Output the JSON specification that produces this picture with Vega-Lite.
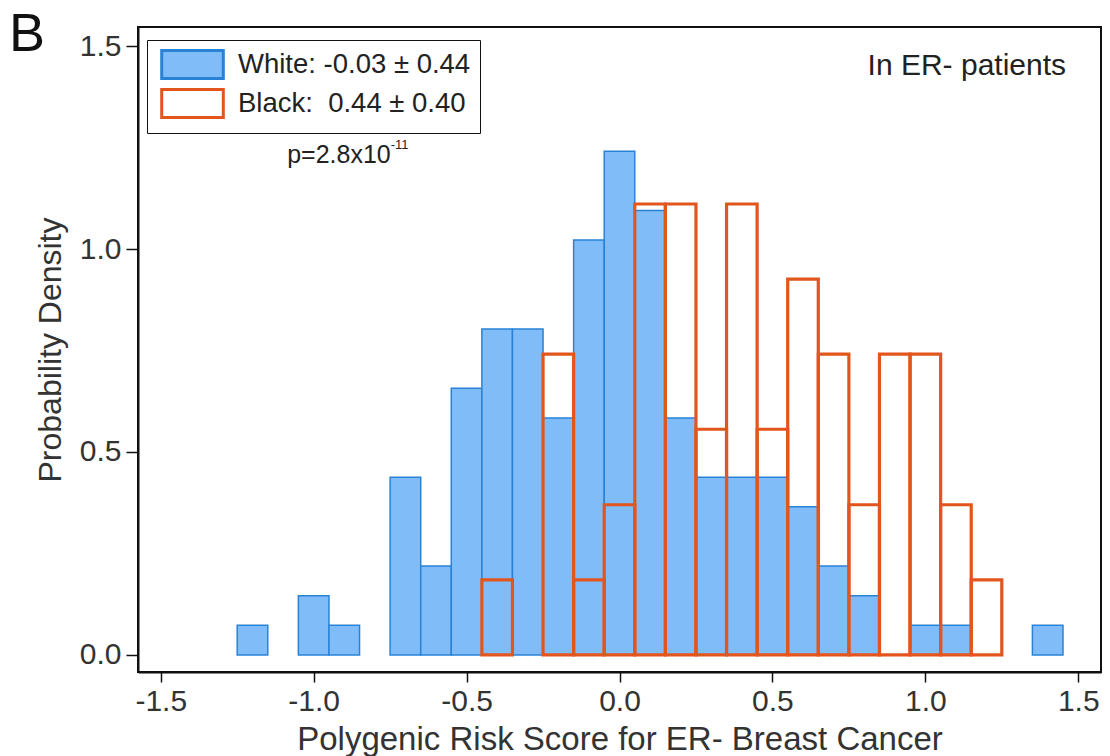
{
  "$schema": "https://vega.github.io/schema/vega-lite/v6.json",
  "width": 963,
  "height": 645,
  "autosize": "none",
  "padding": {"left": 138, "top": 27, "right": 9, "bottom": 84},
  "background": "white",
  "title": {"text": "B", "anchor": "start", "frame": "group", "fontSize": 54, "font": "Liberation Sans", "fontWeight": "normal", "color": "#111111", "dx": -129, "dy": 35, "offset": 0},
  "config": {
    "view": {"stroke": "#111111", "strokeWidth": 2},
    "font": "Liberation Sans",
    "axis": {"grid": false, "domainColor": "#111111", "domainWidth": 2, "tickColor": "#111111", "tickWidth": 1.5, "labelColor": "#333333", "titleColor": "#333333", "labelFont": "Liberation Sans", "titleFont": "Liberation Sans", "titleFontWeight": "normal", "labelFontSize": 30}
  },
  "datasets": {
    "hist": [
      {"group": "White: -0.03 ± 0.44", "x0": -1.25, "x1": -1.15, "density": 0.073},
      {"group": "White: -0.03 ± 0.44", "x0": -1.05, "x1": -0.95, "density": 0.146},
      {"group": "White: -0.03 ± 0.44", "x0": -0.95, "x1": -0.85, "density": 0.073},
      {"group": "White: -0.03 ± 0.44", "x0": -0.75, "x1": -0.65, "density": 0.438},
      {"group": "White: -0.03 ± 0.44", "x0": -0.65, "x1": -0.55, "density": 0.219},
      {"group": "White: -0.03 ± 0.44", "x0": -0.55, "x1": -0.45, "density": 0.657},
      {"group": "White: -0.03 ± 0.44", "x0": -0.45, "x1": -0.35, "density": 0.803},
      {"group": "White: -0.03 ± 0.44", "x0": -0.35, "x1": -0.25, "density": 0.803},
      {"group": "White: -0.03 ± 0.44", "x0": -0.25, "x1": -0.15, "density": 0.584},
      {"group": "White: -0.03 ± 0.44", "x0": -0.15, "x1": -0.05, "density": 1.022},
      {"group": "White: -0.03 ± 0.44", "x0": -0.05, "x1": 0.05, "density": 1.241},
      {"group": "White: -0.03 ± 0.44", "x0": 0.05, "x1": 0.15, "density": 1.095},
      {"group": "White: -0.03 ± 0.44", "x0": 0.15, "x1": 0.25, "density": 0.584},
      {"group": "White: -0.03 ± 0.44", "x0": 0.25, "x1": 0.35, "density": 0.438},
      {"group": "White: -0.03 ± 0.44", "x0": 0.35, "x1": 0.45, "density": 0.438},
      {"group": "White: -0.03 ± 0.44", "x0": 0.45, "x1": 0.55, "density": 0.438},
      {"group": "White: -0.03 ± 0.44", "x0": 0.55, "x1": 0.65, "density": 0.365},
      {"group": "White: -0.03 ± 0.44", "x0": 0.65, "x1": 0.75, "density": 0.219},
      {"group": "White: -0.03 ± 0.44", "x0": 0.75, "x1": 0.85, "density": 0.146},
      {"group": "White: -0.03 ± 0.44", "x0": 0.95, "x1": 1.05, "density": 0.073},
      {"group": "White: -0.03 ± 0.44", "x0": 1.05, "x1": 1.15, "density": 0.073},
      {"group": "White: -0.03 ± 0.44", "x0": 1.35, "x1": 1.45, "density": 0.073},
      {"group": "Black: \u00a00.44 ± 0.40", "x0": -0.45, "x1": -0.35, "density": 0.185},
      {"group": "Black: \u00a00.44 ± 0.40", "x0": -0.25, "x1": -0.15, "density": 0.741},
      {"group": "Black: \u00a00.44 ± 0.40", "x0": -0.15, "x1": -0.05, "density": 0.185},
      {"group": "Black: \u00a00.44 ± 0.40", "x0": -0.05, "x1": 0.05, "density": 0.370},
      {"group": "Black: \u00a00.44 ± 0.40", "x0": 0.05, "x1": 0.15, "density": 1.111},
      {"group": "Black: \u00a00.44 ± 0.40", "x0": 0.15, "x1": 0.25, "density": 1.111},
      {"group": "Black: \u00a00.44 ± 0.40", "x0": 0.25, "x1": 0.35, "density": 0.556},
      {"group": "Black: \u00a00.44 ± 0.40", "x0": 0.35, "x1": 0.45, "density": 1.111},
      {"group": "Black: \u00a00.44 ± 0.40", "x0": 0.45, "x1": 0.55, "density": 0.556},
      {"group": "Black: \u00a00.44 ± 0.40", "x0": 0.55, "x1": 0.65, "density": 0.926},
      {"group": "Black: \u00a00.44 ± 0.40", "x0": 0.65, "x1": 0.75, "density": 0.741},
      {"group": "Black: \u00a00.44 ± 0.40", "x0": 0.75, "x1": 0.85, "density": 0.370},
      {"group": "Black: \u00a00.44 ± 0.40", "x0": 0.85, "x1": 0.95, "density": 0.741},
      {"group": "Black: \u00a00.44 ± 0.40", "x0": 0.95, "x1": 1.05, "density": 0.741},
      {"group": "Black: \u00a00.44 ± 0.40", "x0": 1.05, "x1": 1.15, "density": 0.370},
      {"group": "Black: \u00a00.44 ± 0.40", "x0": 1.15, "x1": 1.25, "density": 0.185}
    ],
    "notes": [
      {"x": 1.46, "y": 1.45, "label": "In ER- patients", "kind": "right"},
      {"x": -0.748, "y": 1.232, "label": "p=2.8x10", "kind": "p"},
      {"x": -0.748, "y": 1.232, "label": "-11", "kind": "sup"}
    ]
  },
  "layer": [
    {
      "data": {"name": "hist"},
      "mark": {"type": "bar", "orient": "vertical"},
      "encoding": {
        "x": {"field": "x0", "type": "quantitative", "scale": {"domain": [-1.558, 1.558], "nice": false, "zero": false},
              "axis": {"title": "Polygenic Risk Score for ER- Breast Cancer", "titleFontSize": 33, "values": [-1.5, -1.0, -0.5, 0.0, 0.5, 1.0, 1.5], "labelExpr": "datum.value < 0 ? '-' + format(-datum.value, '.1f') : format(datum.value, '.1f')", "tickSize": 10, "labelPadding": 4, "titlePadding": 7}},
        "x2": {"field": "x1"},
        "y": {"field": "density", "type": "quantitative", "scale": {"domain": [-0.042, 1.547], "nice": false, "zero": false},
              "axis": {"title": "Probability Density", "titleFontSize": 32, "values": [0.0, 0.5, 1.0, 1.5], "format": ".1f", "tickSize": 12, "labelPadding": 5, "titlePadding": 12}},
        "y2": {"datum": 0},
        "fill": {"field": "group", "type": "nominal", "sort": null,
                 "scale": {"domain": ["White: -0.03 ± 0.44", "Black: \u00a00.44 ± 0.40"], "range": ["#80bdf8", "rgba(255,255,255,0)"]},
                 "legend": {"title": null, "orient": "none", "legendX": 9, "legendY": 13, "padding": 9, "strokeColor": "#111111", "fillColor": "white",
                            "symbolType": "M-2.2,-1H2.2V1H-2.2Z", "symbolSize": 784, "symbolOffset": 21, "labelOffset": 30, "rowPadding": -2,
                            "labelFontSize": 27.5, "labelColor": "#222222", "labelFont": "Liberation Sans", "symbolStrokeWidth": 3, "labelLimit": 400}},
        "stroke": {"field": "group", "type": "nominal", "sort": null,
                   "scale": {"domain": ["White: -0.03 ± 0.44", "Black: \u00a00.44 ± 0.40"], "range": ["#2a82d6", "#e2561e"]},
                   "legend": {"title": null, "orient": "none", "legendX": 9, "legendY": 13, "padding": 9, "strokeColor": "#111111", "fillColor": "white",
                            "symbolType": "M-2.2,-1H2.2V1H-2.2Z", "symbolSize": 784, "symbolOffset": 21, "labelOffset": 30, "rowPadding": -2,
                            "labelFontSize": 27.5, "labelColor": "#222222", "labelFont": "Liberation Sans", "symbolStrokeWidth": 3, "labelLimit": 400}},
        "strokeWidth": {"condition": {"test": "indexof(datum.group, 'Black') === 0", "value": 3.2}, "value": 1.5}
      }
    },
    {
      "data": {"name": "notes"},
      "transform": [{"filter": "datum.kind === 'right'"}],
      "mark": {"type": "text", "align": "right", "baseline": "middle", "fontSize": 30, "color": "#222222", "font": "Liberation Sans"},
      "encoding": {
        "x": {"field": "x", "type": "quantitative"},
        "y": {"field": "y", "type": "quantitative"},
        "text": {"field": "label"}
      }
    },
    {
      "data": {"name": "notes"},
      "transform": [{"filter": "datum.kind === 'p'"}],
      "mark": {"type": "text", "align": "right", "baseline": "middle", "fontSize": 25, "color": "#222222", "font": "Liberation Sans"},
      "encoding": {
        "x": {"field": "x", "type": "quantitative"},
        "y": {"field": "y", "type": "quantitative"},
        "text": {"field": "label"}
      }
    },
    {
      "data": {"name": "notes"},
      "transform": [{"filter": "datum.kind === 'sup'"}],
      "mark": {"type": "text", "align": "left", "baseline": "middle", "fontSize": 13, "dy": -10, "color": "#222222", "font": "Liberation Sans"},
      "encoding": {
        "x": {"field": "x", "type": "quantitative"},
        "y": {"field": "y", "type": "quantitative"},
        "text": {"field": "label"}
      }
    }
  ]
}
